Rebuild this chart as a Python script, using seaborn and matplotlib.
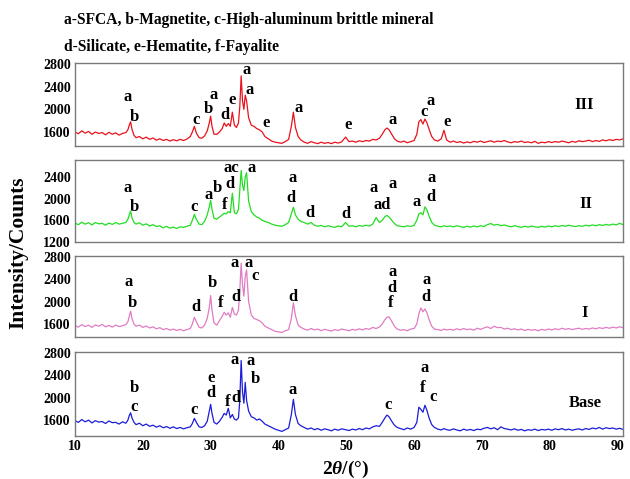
import matplotlib
matplotlib.use("Agg")
import matplotlib.pyplot as plt
import seaborn as sns
import pandas as pd

# ---------------- data ----------------
two_theta = [
    10.0, 10.5, 11.0, 11.5, 12.0, 12.5, 13.0, 13.5, 14.0, 14.5, 15.0, 15.5, 16.0, 16.5, 17.0, 17.5,
    17.8, 18.0, 18.2, 18.4, 18.7,
    19.0, 19.5, 20.0, 20.5, 21.0, 21.5, 22.0, 22.5, 23.0, 23.5, 24.0, 24.5, 25.0, 25.5, 26.0, 26.5, 27.0,
    27.3, 27.6, 27.9, 28.3,
    28.7, 29.1, 29.5, 29.8, 30.0, 30.2, 30.5,
    30.9, 31.3, 31.7, 32.0, 32.3, 32.6, 32.9, 33.2, 33.5, 33.8, 34.1, 34.3, 34.5, 34.7, 34.9, 35.1, 35.3,
    35.6, 36.0, 36.4, 36.8, 37.2, 37.6,
    38.0, 38.5, 39.0, 39.5, 40.0, 40.5, 41.0, 41.5,
    41.9, 42.2, 42.5, 42.9,
    43.3, 43.8, 44.3, 44.8, 45.3, 45.8, 46.3, 46.8, 47.3, 47.8, 48.3, 48.8, 49.3, 49.9, 50.4, 50.9,
    51.4, 51.9, 52.4, 52.9, 53.4, 53.9, 54.4, 54.9,
    55.3, 55.7, 56.0, 56.3, 56.7, 57.1, 57.5,
    58.0, 58.5, 59.0, 59.5, 60.0, 60.4,
    60.7, 61.0, 61.3, 61.6, 61.9, 62.2, 62.6, 63.0,
    63.5, 64.0, 64.4, 64.8,
    65.3, 65.8, 66.3, 66.8, 67.3, 67.8, 68.3, 68.8, 69.3, 69.8,
    70.3, 70.8, 71.3, 71.8, 72.3, 72.8, 73.3, 73.8, 74.3, 74.8,
    75.3, 75.8, 76.3, 76.8, 77.3, 77.8, 78.3, 78.8, 79.3, 79.8,
    80.3, 80.8, 81.3, 81.8, 82.3, 82.8, 83.3, 83.8, 84.3, 84.8,
    85.3, 85.8, 86.3, 86.8, 87.3, 87.8, 88.3, 88.8, 89.3, 89.8,
    90.3, 90.8,
]

counts_III = [
    1600, 1570, 1620, 1580, 1610, 1560, 1600, 1575, 1590, 1550, 1595, 1560, 1585, 1545, 1575, 1590,
    1640, 1720, 1780, 1650, 1540,
    1500, 1520, 1480, 1510, 1470, 1495, 1455, 1480, 1450, 1470, 1440, 1465, 1445, 1470, 1450, 1475, 1520,
    1600, 1700, 1580, 1500,
    1490, 1530, 1620, 1760, 1880, 1700, 1560,
    1560, 1600, 1660, 1760, 1700, 1750, 1700, 1950, 1720, 1680, 1760, 2050, 2590, 2150, 2000, 2250, 2150,
    1850, 1720, 1700, 1660, 1640, 1600,
    1520, 1480, 1440, 1420, 1410, 1400, 1430, 1470,
    1700, 1950, 1680, 1520,
    1460, 1420, 1400, 1430, 1410, 1395, 1420, 1400, 1415, 1395, 1420, 1405, 1425, 1510, 1430, 1440,
    1420, 1445, 1430, 1450, 1440, 1470, 1460, 1490,
    1560, 1640, 1670, 1640, 1560, 1480, 1440,
    1420, 1440, 1410, 1430, 1450, 1560,
    1780, 1820, 1740, 1830, 1760, 1650, 1520, 1460,
    1440, 1480, 1630, 1460,
    1420, 1440, 1415, 1430, 1405, 1425, 1410, 1435, 1420, 1440,
    1415, 1430, 1445, 1420, 1440, 1430, 1450, 1425, 1410, 1430,
    1420, 1440, 1415, 1425, 1410, 1435, 1400, 1420, 1410, 1430,
    1415, 1430, 1420, 1440, 1425, 1410, 1435, 1420, 1445, 1430,
    1440, 1455, 1430, 1450, 1435, 1460, 1445, 1465, 1450, 1470,
    1460, 1480,
]

counts_II = [
    1550, 1520, 1565, 1530, 1555, 1515, 1560, 1535, 1545, 1510, 1550, 1525, 1560, 1530, 1545, 1560,
    1620, 1700, 1770, 1650, 1560,
    1530, 1555, 1510, 1535, 1495, 1520, 1485, 1500, 1460, 1490, 1455, 1475, 1450, 1480, 1470, 1490, 1510,
    1600, 1710, 1620, 1530,
    1520, 1580, 1700, 1850, 1970, 1800, 1640,
    1620, 1660, 1700, 1730, 1720, 1760, 1740, 2100, 1740, 1720, 1800, 2150, 2520, 2250, 2150, 2400, 2480,
    1950, 1760, 1700, 1660, 1640, 1600,
    1580, 1560, 1530, 1510, 1500, 1490, 1520, 1560,
    1720, 1840, 1700, 1620,
    1580, 1560, 1530, 1560, 1510, 1490, 1505, 1480, 1500, 1485, 1470, 1495, 1480, 1560, 1490, 1500,
    1480, 1505, 1490, 1510, 1495, 1530, 1650, 1560,
    1600, 1670, 1690, 1660, 1600, 1540, 1500,
    1490, 1480, 1500, 1485, 1510, 1600,
    1720, 1740, 1700, 1850, 1790, 1680, 1560, 1510,
    1490, 1480, 1500, 1485,
    1495, 1480, 1500, 1485, 1470, 1490, 1475, 1495, 1480, 1500,
    1485, 1520, 1540, 1510, 1525, 1500, 1515, 1495, 1480, 1500,
    1485, 1470, 1490, 1475, 1495, 1480, 1470, 1490, 1475, 1495,
    1480, 1500, 1485, 1505, 1490, 1510, 1495, 1485, 1500, 1490,
    1510, 1495, 1515, 1500, 1520, 1505, 1525, 1510, 1530, 1515,
    1545, 1520,
]

counts_I = [
    1570, 1545, 1590, 1555, 1580, 1540, 1585, 1560, 1595, 1550, 1575, 1545, 1580, 1555, 1570, 1590,
    1640, 1740, 1830, 1700, 1600,
    1560, 1580, 1540, 1565, 1530, 1550, 1515, 1535, 1500, 1520, 1490, 1510, 1485, 1505, 1480, 1500, 1520,
    1600, 1720, 1640, 1540,
    1530, 1580, 1700, 1900, 2110, 1850, 1620,
    1580, 1660, 1740, 1810, 1760, 1800, 1720, 1900, 1780, 1760, 1850, 2200, 2690, 2300, 2100, 2450, 2570,
    2000, 1760, 1700, 1680, 1660, 1620,
    1560, 1530, 1500, 1470, 1460, 1450, 1480, 1500,
    1700, 1980, 1750, 1580,
    1540, 1510, 1490, 1520, 1495, 1510, 1480, 1505, 1490, 1475, 1500, 1485, 1510, 1495, 1480, 1505,
    1490, 1515, 1495, 1520, 1505, 1540, 1520, 1550,
    1600, 1680, 1720, 1730, 1650, 1560, 1510,
    1490, 1500, 1480, 1510, 1520, 1600,
    1780, 1890, 1820, 1870, 1800, 1680, 1560, 1510,
    1500, 1485, 1510, 1495,
    1505, 1490, 1515, 1495, 1520, 1500, 1510, 1490, 1525, 1505,
    1530, 1550, 1520, 1560, 1535, 1540, 1510, 1525, 1500, 1515,
    1495, 1510, 1485, 1505, 1490, 1500, 1480, 1505, 1490, 1510,
    1495, 1515, 1500, 1525, 1505, 1520, 1500, 1515, 1525, 1505,
    1520, 1510, 1530, 1515, 1535, 1520, 1540, 1525, 1545, 1530,
    1550, 1535,
]

counts_base = [
    1590, 1560, 1610, 1570, 1600, 1550, 1590, 1565, 1575, 1540, 1585, 1555, 1560, 1530, 1570, 1545,
    1600, 1680, 1730, 1640, 1560,
    1520, 1545, 1500, 1530, 1490, 1510, 1475, 1500, 1465, 1485, 1455, 1480, 1450, 1470, 1445, 1465, 1480,
    1540, 1630, 1560, 1480,
    1470, 1500, 1580, 1760, 1880, 1720, 1560,
    1530, 1580, 1650, 1720, 1690, 1810, 1640, 1700, 1620, 1600, 1640, 1950, 2660, 2100, 1900, 2270, 1950,
    1760, 1660, 1640, 1600, 1620, 1580,
    1530, 1500, 1470, 1440, 1420, 1400, 1430, 1460,
    1700, 1970, 1700, 1540,
    1500, 1470, 1440, 1460, 1430, 1450, 1420, 1445, 1430, 1410, 1440, 1420, 1445, 1430, 1415, 1440,
    1425, 1450, 1430, 1460, 1445, 1480, 1500, 1490,
    1560, 1640, 1690, 1660, 1580, 1510, 1470,
    1450, 1430, 1460, 1440, 1470, 1560,
    1830, 1790, 1740, 1864, 1770, 1640, 1520, 1470,
    1440, 1425, 1450, 1430,
    1420, 1445, 1425, 1410, 1440, 1420, 1435, 1415, 1440, 1430,
    1455, 1470, 1445, 1465, 1430, 1480, 1450, 1440, 1425, 1445,
    1420, 1435, 1410, 1430, 1420, 1440, 1415, 1435, 1425, 1440,
    1420, 1445, 1430, 1450, 1425, 1440, 1420, 1435, 1445, 1425,
    1450, 1435, 1460, 1445, 1470, 1440, 1465, 1450, 1460, 1440,
    1455, 1435,
]

sample_names = ["III", "II", "I", "Base"]
line_colors = ["#e8121c", "#22dd22", "#e07cc4", "#1c1cd8"]
y_ticks = [[1600, 2000, 2400, 2800], [1200, 1600, 2000, 2400],
           [1600, 2000, 2400, 2800], [1600, 2000, 2400, 2800]]
y_limits = [(1353, 2818), (1200, 2713), (1368, 2818), (1318, 2810)]
x_ticks = [10, 20, 30, 40, 50, 60, 70, 80, 90]

# phase labels: (text, 2theta, intensity)
labels_III = [("a", 17.8, 2216), ("b", 18.8, 1864), ("c", 27.9, 1811), ("b", 29.6, 2000),
              ("a", 30.5, 2250), ("d", 32.1, 1900), ("e", 33.2, 2163), ("a", 35.3, 2690),
              ("a", 35.7, 2340), ("e", 38.1, 1760), ("a", 42.9, 2022), ("e", 50.3, 1723),
              ("a", 56.8, 1811), ("c", 61.5, 1952), ("a", 62.5, 2146), ("e", 64.9, 1776)]
labels_II = [("a", 17.8, 2189), ("b", 18.8, 1839), ("c", 27.5, 1839), ("a", 29.7, 2060),
             ("b", 31.0, 2189), ("f", 32.1, 1876), ("d", 32.9, 2262), ("ac", 33.1, 2557),
             ("a", 36.0, 2557), ("a", 42.1, 2373), ("d", 41.9, 2005), ("d", 44.7, 1729),
             ("d", 49.9, 1710), ("a", 54.1, 2189), ("ad", 55.3, 1876), ("a", 56.8, 2262),
             ("a", 60.4, 1931), ("a", 62.6, 2373), ("d", 62.5, 2023)]
labels_I = [("a", 17.9, 2350), ("b", 18.4, 1975), ("d", 27.8, 1904), ("b", 30.3, 2332),
            ("f", 31.5, 1975), ("d", 33.7, 2082), ("a", 33.5, 2689), ("a", 35.6, 2689),
            ("c", 36.6, 2460), ("d", 42.1, 2082), ("a", 56.8, 2529), ("d", 56.8, 2243),
            ("f", 56.6, 1975), ("a", 61.9, 2386), ("d", 61.8, 2082)]
labels_base = [("b", 18.8, 2163), ("c", 18.7, 1829), ("c", 27.6, 1776), ("e", 30.0, 2357),
               ("d", 30.0, 2075), ("f", 32.5, 1917), ("d", 33.7, 1987), ("a", 33.5, 2674),
               ("a", 35.9, 2656), ("b", 36.6, 2339), ("a", 42.1, 2128), ("c", 56.2, 1864),
               ("a", 61.6, 2533), ("f", 61.3, 2163), ("c", 62.8, 2005)]
name_positions = [(85.1, 2075), (85.3, 1894), (85.1, 1796), (85.3, 1899)]

legend_line1 = "a-SFCA, b-Magnetite, c-High-aluminum brittle mineral"
legend_line2 = "d-Silicate, e-Hematite, f-Fayalite"

# ---------------- drawing ----------------
sns.set_theme(style="white")
plt.rcParams['font.family'] = ['Liberation Serif', 'DejaVu Serif']
plt.rcParams['font.weight'] = 'bold'
plt.rcParams['text.color'] = 'black'
plt.rcParams['axes.labelcolor'] = 'black'
plt.rcParams['xtick.color'] = 'black'
plt.rcParams['ytick.color'] = 'black'
plt.rcParams['mathtext.fontset'] = 'custom'
plt.rcParams['mathtext.it'] = 'Liberation Serif:italic:bold'
plt.rcParams['mathtext.rm'] = 'Liberation Serif:bold'

series = [counts_III, counts_II, counts_I, counts_base]
all_labels = [labels_III, labels_II, labels_I, labels_base]

W, H = 630, 479
fig = plt.figure(figsize=(W / 100, H / 100), dpi=100)
boxes = [(63, 146), (160, 242), (256, 337), (352, 436)]
left, right = 75, 623

for i, (top, bot) in enumerate(boxes):
    ax = fig.add_axes([left / W, 1 - bot / H, (right - left) / W, (bot - top) / H])
    df = pd.DataFrame({"two_theta": two_theta, "counts": series[i]})
    sns.lineplot(data=df, x="two_theta", y="counts", ax=ax, color=line_colors[i],
                 linewidth=0.9, estimator=None, sort=False)
    ax.set_xlim(10, 90.8)
    ax.set_ylim(*y_limits[i])
    ax.set_yticks(y_ticks[i])
    ax.set_xticks(x_ticks)
    ax.set_xlabel("")
    ax.set_ylabel("")
    ax.tick_params(axis="both", direction="in", length=2, width=0.6, color="#808080",
                   labelsize=10, pad=3, labelcolor="black")
    ax.tick_params(axis="y", length=0)
    for lab in ax.get_yticklabels() + ax.get_xticklabels():
        lab.set_fontweight("bold")
    if i < 3:
        ax.tick_params(axis="x", labelbottom=False)
    for sp in ax.spines.values():
        sp.set_color("#7a7a7a")
        sp.set_linewidth(1.0)
    for txt, xx, yy in all_labels[i]:
        ax.text(xx, yy, txt, ha="center", va="center", fontsize=12, fontweight="bold",
                color="black")
    nx, ny = name_positions[i]
    ax.text(nx, ny, sample_names[i], ha="center", va="center", fontsize=12,
            fontweight="bold", color="black")

fig.text(64 / W, 1 - 20 / H, legend_line1, ha="left", va="center", fontsize=11.2,
         fontweight="bold", color="black")
fig.text(64 / W, 1 - 47 / H, legend_line2, ha="left", va="center", fontsize=11.2,
         fontweight="bold", color="black")
fig.text(18 / W, 1 - 253 / H, "Intensity/Counts", rotation=90, ha="center", va="center",
         fontsize=15.5, fontweight="bold", color="black")
fig.text(346 / W, 1 - 469 / H, r"2$\theta$/(°)", ha="center", va="center", fontsize=14,
         fontweight="bold", color="black")

fig.savefig("out.png", dpi=100)
